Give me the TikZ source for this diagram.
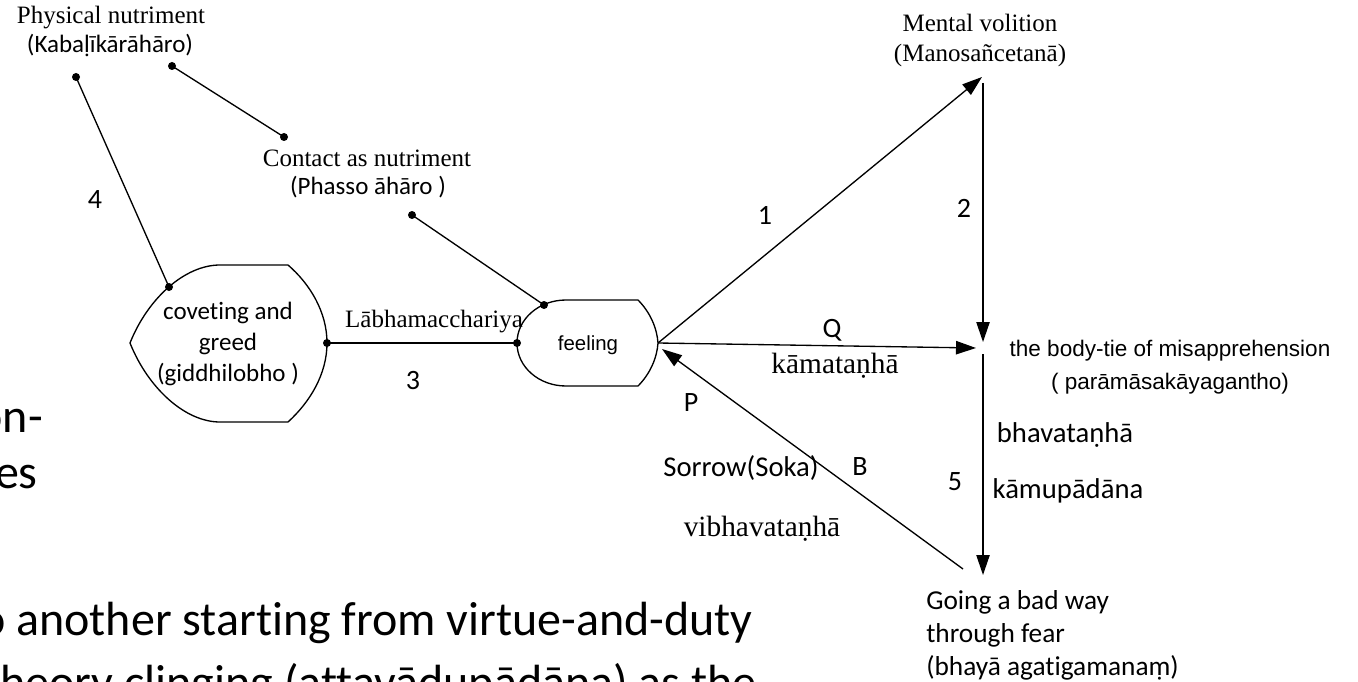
\documentclass[tikz,border=0pt]{standalone}
\usepackage{fontspec}
\setmainfont{Liberation Serif}
\newfontfamily\calfont[Ligatures=NoCommon]{Carlito}
\newfontfamily\arifont{Liberation Sans}
\usetikzlibrary{arrows.meta}
\tikzset{
  dotn/.style={circle,fill=black,inner sep=0pt,minimum size=6pt},
  conn/.style={line width=1pt},
  arr/.style={line width=1pt,-{Triangle[length=15pt,width=10pt]}},
  shp/.style={line width=1pt},
  serif/.style={inner sep=0pt,font=\fontsize{18.75}{22.5}\selectfont},
  serifL/.style={inner sep=0pt,font=\fontsize{22}{26}\selectfont},
  cal/.style={inner sep=0pt,font=\calfont\fontsize{18.75}{23.25}\selectfont},
  calL/.style={inner sep=0pt,font=\calfont\fontsize{21.5}{26}\selectfont},
  calM/.style={inner sep=0pt,font=\calfont\fontsize{20.5}{24.75}\selectfont},
  num/.style={inner sep=0pt,font=\calfont\fontsize{21}{25}\selectfont},
  ari/.style={inner sep=0pt,font=\arifont\fontsize{16.9}{24.75}\selectfont},
  arismall/.style={inner sep=0pt,font=\arifont\fontsize{15.3}{18}\selectfont},
  bg/.style={inner sep=0pt,font=\calfont\fontsize{36}{44}\selectfont},
}
\begin{document}
\begin{tikzpicture}[x=0.75pt,y=-0.75pt]
\useasboundingbox (0,0) rectangle (1358,681);
\clip (0,0) rectangle (1358,681);
\fill[white] (0,0) rectangle (1358,681);

% background slide text (cut off)
\node[bg,anchor=base east] (bg1) at (43,432) {on-};
\node[bg,anchor=base east] (bg2) at (38,488) {es};
\node[bg,anchor=base east] (bg3) at (753,635) {o another starting from virtue-and-duty};
\node[bg,anchor=base east] (bg4) at (757,698) {theory clinging (attavādupādāna) as the};

% shapes
\draw[shp] (220,265) -- (288,265) .. controls (310,284) and (327,312) .. (327,343)
  .. controls (327,374) and (310,402) .. (288,422) -- (220,422)
  .. controls (185,422) and (148,388) .. (130,343)
  .. controls (148,298) and (185,265) .. (220,265) -- cycle;
\node[cal,align=center] (cov) at (228,344) {coveting and\\greed\\(giddhilobho )};

\draw[shp] (566,300) -- (638,300) .. controls (650,312) and (657,328) .. (658,343)
  .. controls (657,358) and (650,374) .. (638,386) -- (566,386)
  .. controls (539,386) and (517,367) .. (517,343)
  .. controls (517,319) and (539,300) .. (566,300) -- cycle;
\node[arismall] (feel) at (588,345) {feeling};

% text nodes
\node[serif] (phys1) at (111,18) {Physical nutriment};
\node[cal] (phys2) at (110,45) {(Kabaḷīkārāhāro)};
\node[serif] (cont1) at (367,158) {Contact as nutriment};
\node[cal] (cont2) at (368,187) {(Phasso āhāro )};
\node[serif,align=center] (mv) at (980,40) {Mental volition\\(Manosañcetanā)};
\node[ari,align=center] (bt) at (1170,367) {the body-tie of misapprehension\\( parāmāsakāyagantho)};
\node[calM,align=left,anchor=west] (go) at (926,635) {Going a bad way\\through fear\\(bhayā agatigamanaṃ)};

% dots
\node[dotn] (d1) at (76,77) {};
\node[dotn] (d2) at (172,66) {};
\node[dotn] (d3) at (284,137) {};
\node[dotn] (d4) at (412,215) {};
\node[dotn] (cvtop) at (169,287) {};
\node[dotn] (cvright) at (327,343) {};
\node[dotn] (fleft) at (517,343) {};
\node[dotn] (ftop) at (544,305) {};

% coordinates for arrow ends
\coordinate (fright) at (658,343);
\coordinate (mvtip) at (982,77);
\coordinate (mvbot) at (983,83);
\coordinate (bttop) at (983,342);
\coordinate (qtip) at (976,348);
\coordinate (btbot) at (983,354);
\coordinate (gotip) at (983,575);
\coordinate (gostart) at (963,569);
\coordinate (ftip) at (662,349);

% connectors
\draw[conn] (d1.center) -- (cvtop.center);
\draw[conn] (d2.center) -- (d3.center);
\draw[conn] (d4.center) -- (ftop.center);
\draw[conn] (cvright.center) -- (fleft.center);
\draw[arr] (fright) -- (mvtip);
\draw[arr] (mvbot) -- (bttop);
\draw[arr] (fright) -- (qtip);
\draw[arr] (btbot) -- (gotip);
\draw[arr] (gostart) -- (ftip);

% labels
\node[num] (n4) at (95,200) {4};
\node[num] (n1) at (765,215) {1};
\node[num] (n2) at (964,208) {2};
\node[num] (nq) at (832,330) {Q};
\node[num] (n3) at (413,381) {3};
\node[num] (np) at (691,403) {P};
\node[num] (nb) at (860,467) {B};
\node[num] (n5) at (955,482) {5};
\node[serif] (lab) at (434,322) {Lābhamacchariya};
\node[serifL] (kam) at (835,366) {kāmataṇhā};
\node[serifL] (vib) at (762,529) {vibhavataṇhā};
\node[calL] (sor) at (741,468) {Sorrow(Soka)};
\node[calL] (bha) at (1065,435) {bhavataṇhā};
\node[calL] (kup) at (1068,491) {kāmupādāna};
\end{tikzpicture}
\end{document}
